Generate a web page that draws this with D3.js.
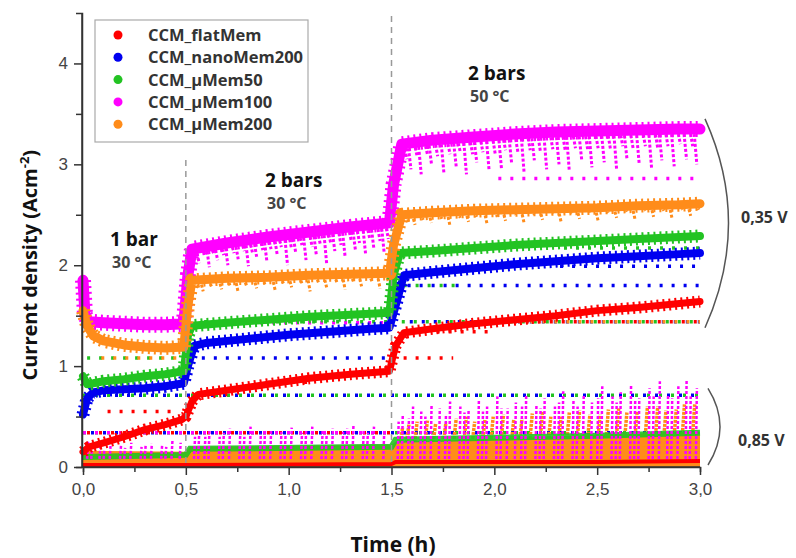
<!DOCTYPE html>
<html lang="en">
<head>
<meta charset="UTF-8">
<title>Current density vs time</title>
<script src="https://d3js.org/d3.v7.min.js"></script>
<style>
  body { margin: 0; background: #fff; }
  .tick text { font-family: "Liberation Sans", Arial, sans-serif; font-size: 17px; fill: #444; }
  .lbl { font-family: "Open Sans", "Noto Sans", sans-serif; font-weight: 700; }
</style>
</head>
<body>
<div id="chart"></div>
<script>
// ---- data ----
var seriesNames = ["CCM_flatMem", "CCM_nanoMem200", "CCM_\u00b5Mem50", "CCM_\u00b5Mem100", "CCM_\u00b5Mem200"];
var seriesColors = ["#ff0000", "#0000f0", "#22c322", "#ff00ff", "#ff8c1a"];

// main band at 0,35 V  [time h, current A/cm2]
var flatMem = [[0,0.15],[0.03,0.2],[0.1,0.24],[0.2,0.3],[0.3,0.37],[0.4,0.42],[0.48,0.47],[0.5,0.5],[0.53,0.65],[0.56,0.72],[0.7,0.76],[0.9,0.82],[1.1,0.88],[1.3,0.92],[1.49,0.95],[1.52,1.2],[1.56,1.33],[1.7,1.37],[1.9,1.42],[2.1,1.46],[2.3,1.5],[2.5,1.55],[2.7,1.58],[2.9,1.62],[3.0,1.64]];
var nanoMem200 = [[0,0.52],[0.02,0.68],[0.05,0.74],[0.1,0.76],[0.2,0.77],[0.3,0.78],[0.4,0.8],[0.49,0.83],[0.51,1.0],[0.54,1.2],[0.6,1.23],[0.8,1.27],[1.0,1.31],[1.2,1.34],[1.4,1.37],[1.49,1.38],[1.52,1.6],[1.56,1.9],[1.7,1.93],[1.9,1.97],[2.1,2.01],[2.3,2.04],[2.5,2.07],[2.7,2.09],[2.9,2.11],[3.0,2.12]];
var uMem50 = [[0,0.9],[0.02,0.82],[0.05,0.83],[0.1,0.85],[0.2,0.87],[0.3,0.9],[0.4,0.92],[0.49,0.95],[0.51,1.3],[0.53,1.4],[0.7,1.43],[0.9,1.46],[1.1,1.49],[1.3,1.51],[1.49,1.53],[1.51,1.9],[1.54,2.12],[1.7,2.14],[1.9,2.17],[2.1,2.2],[2.3,2.22],[2.5,2.24],[2.7,2.26],[2.9,2.28],[3.0,2.29]];
var uMem100 = [[0,1.85],[0.01,1.5],[0.03,1.44],[0.1,1.43],[0.2,1.42],[0.3,1.41],[0.4,1.41],[0.49,1.42],[0.51,1.9],[0.53,2.16],[0.7,2.22],[0.9,2.28],[1.1,2.33],[1.3,2.38],[1.49,2.42],[1.51,2.8],[1.55,3.2],[1.7,3.24],[1.9,3.27],[2.1,3.3],[2.3,3.32],[2.5,3.33],[2.7,3.34],[2.9,3.35],[3.0,3.35]];
var uMem200 = [[0,1.55],[0.02,1.4],[0.05,1.3],[0.1,1.25],[0.2,1.21],[0.3,1.19],[0.4,1.18],[0.49,1.19],[0.51,1.6],[0.53,1.85],[0.7,1.87],[0.9,1.88],[1.1,1.9],[1.3,1.91],[1.49,1.92],[1.51,2.2],[1.55,2.5],[1.7,2.52],[1.9,2.54],[2.1,2.55],[2.3,2.56],[2.5,2.57],[2.7,2.59],[2.9,2.6],[3.0,2.61]];
var bands = [flatMem, nanoMem200, uMem50, uMem100, uMem200];

// downward dips of the µMem100 / µMem200 bands  [time, lowest value]
var uMem100Dips = [[0.53,2.05],[0.55,2.02],[0.58,2.1],[0.6,1.98],[0.62,2.12],[0.64,2.05],[0.67,2.1],[0.69,2.0],[0.72,2.12],[0.74,2.06],[0.77,2.14],[0.79,1.99],[0.81,2.12],[0.83,2.08],[0.86,2.15],[0.88,2.03],[0.9,2.16],[0.93,2.1],[0.95,2.18],[0.98,2.0],[1.0,2.16],[1.02,2.12],[1.05,2.2],[1.07,2.05],[1.1,2.18],[1.12,2.1],[1.14,2.2],[1.17,2.02],[1.19,2.22],[1.21,2.14],[1.24,2.2],[1.26,2.08],[1.29,2.24],[1.31,2.15],[1.33,2.22],[1.36,2.1],[1.38,2.26],[1.4,2.16],[1.43,2.24],[1.45,2.12],[1.47,2.26],
  [1.56,3.05],[1.58,2.95],[1.61,3.08],[1.63,2.9],[1.66,3.1],[1.68,3.0],[1.71,3.08],[1.74,2.92],[1.77,3.1],[1.8,2.98],[1.82,3.12],[1.85,2.9],[1.88,3.1],[1.9,3.02],[1.93,3.12],[1.96,2.94],[1.99,3.1],[2.02,2.96],[2.04,3.14],[2.07,3.0],[2.1,3.12],[2.13,2.92],[2.16,3.14],[2.18,3.04],[2.21,3.12],[2.24,2.95],[2.27,3.15],[2.3,3.0],[2.33,3.14],[2.35,2.93],[2.38,3.16],[2.41,3.05],[2.44,3.14],[2.46,2.97],[2.49,3.16],[2.52,3.02],[2.55,3.15],[2.58,2.95],[2.61,3.18],[2.63,3.06],[2.66,3.16],[2.69,3.0],[2.72,3.18],[2.75,2.96],[2.78,3.16],[2.8,3.04],[2.83,3.18],[2.86,2.98],[2.89,3.2],[2.92,3.05],[2.95,3.18],[2.97,3.0]];
var uMem200Dips = [[0.55,1.76],[0.57,1.74],[0.61,1.79],[0.66,1.76],[0.7,1.8],[0.74,1.73],[0.78,1.8],[0.83,1.77],[0.87,1.81],[0.92,1.75],[0.96,1.82],[1.0,1.78],[1.05,1.82],[1.09,1.74],[1.13,1.83],[1.17,1.78],[1.22,1.83],[1.26,1.76],[1.3,1.84],[1.34,1.79],[1.39,1.84],[1.43,1.77],[1.47,1.84],
  [1.57,2.42],[1.6,2.4],[1.64,2.45],[1.68,2.42],[1.73,2.46],[1.77,2.39],[1.82,2.47],[1.86,2.43],[1.9,2.48],[1.95,2.41],[2.0,2.48],[2.04,2.44],[2.09,2.5],[2.13,2.42],[2.18,2.5],[2.22,2.45],[2.27,2.51],[2.31,2.43],[2.36,2.51],[2.4,2.46],[2.45,2.52],[2.49,2.44],[2.54,2.52],[2.58,2.47],[2.63,2.53],[2.67,2.45],[2.72,2.54],[2.76,2.48],[2.81,2.54],[2.85,2.46],[2.9,2.55],[2.94,2.49],[2.98,2.55]];

// sparse horizontal rows of stray points  [series index, from, to, value]
var strayRows = [[2,0.02,0.5,1.08],[4,0.05,0.48,1.08],[1,0.5,1.5,1.08],[1,1.52,3.0,1.8],[2,1.52,1.85,1.8],[1,2.3,3.0,1.99],
  [2,1.55,3.0,1.44],[1,1.55,3.0,1.44],[0,1.9,3.0,1.44],[4,2.0,3.0,1.44],[2,0.55,1.5,1.44],[3,0.55,1.5,1.43],
  [2,0.0,3.0,0.71],[1,0.0,3.0,0.71],[0,0.1,0.45,0.55],[0,0.9,1.1,0.84],[0,1.52,1.8,1.08],[0,1.7,2.0,1.34],
  [2,0.0,3.0,0.34],[1,0.0,3.0,0.34],[0,0.0,1.5,0.34],[3,0.0,1.5,0.34],[2,2.3,3.0,2.17],[3,2.0,3.0,2.86]];

// 0,85 V part at the bottom
var orangeLow = [[0,0.16],[0.5,0.15],[0.52,0.2],[1.0,0.21],[1.5,0.22],[1.52,0.25],[2.0,0.28],[2.5,0.32],[3.0,0.35]];
var greenLow = [[0,0.1],[0.5,0.12],[0.52,0.18],[1.5,0.2],[1.52,0.27],[2.0,0.29],[2.5,0.31],[3.0,0.34]];
var redLow = [[0,0.02],[0.5,0.02],[0.52,0.02],[1.5,0.03],[1.52,0.05],[2.0,0.05],[2.5,0.05],[3.0,0.06]];
var uMem100Spikes = [[0.02,0.25],[0.04,0.22],[0.08,0.2],[0.1,0.18],[0.13,0.25],[0.18,0.21],[0.2,0.19],[0.23,0.24],[0.28,0.2],[0.3,0.22],[0.33,0.23],[0.38,0.22],[0.4,0.2],[0.43,0.26],[0.47,0.24],
  [0.54,0.3],[0.56,0.33],[0.59,0.3],[0.61,0.36],[0.66,0.3],[0.68,0.34],[0.71,0.38],[0.76,0.34],[0.78,0.3],[0.81,0.4],[0.86,0.33],[0.88,0.36],[0.91,0.37],[0.96,0.35],[0.98,0.32],[1.01,0.39],[1.06,0.34],[1.08,0.37],[1.11,0.4],[1.16,0.36],[1.18,0.33],[1.21,0.38],[1.26,0.35],[1.28,0.38],[1.31,0.41],[1.36,0.37],[1.38,0.34],[1.41,0.4],[1.46,0.36],
  [1.53,0.45],[1.55,0.52],[1.58,0.48],[1.6,0.6],[1.64,0.55],[1.66,0.5],[1.69,0.62],[1.73,0.58],[1.76,0.52],[1.78,0.65],[1.83,0.6],[1.85,0.54],[1.87,0.56],[1.92,0.66],[1.94,0.55],[1.96,0.6],[2.01,0.7],[2.03,0.58],[2.06,0.58],[2.1,0.64],[2.13,0.6],[2.15,0.72],[2.2,0.62],[2.22,0.58],[2.24,0.68],[2.29,0.6],[2.31,0.64],[2.33,0.75],[2.38,0.66],[2.4,0.6],[2.43,0.72],[2.47,0.64],[2.5,0.68],[2.52,0.8],[2.57,0.7],[2.59,0.64],[2.61,0.74],[2.66,0.82],[2.68,0.66],[2.7,0.68],[2.75,0.78],[2.77,0.7],[2.8,0.85],[2.84,0.72],[2.86,0.68],[2.89,0.8],[2.93,0.86],[2.95,0.7],[2.98,0.78]];
var uMem200Spikes = [[1.54,0.4],[1.57,0.42],[1.61,0.45],[1.66,0.46],[1.7,0.43],[1.75,0.44],[1.8,0.48],[1.85,0.5],[1.89,0.45],[1.94,0.47],[1.98,0.5],[2.03,0.52],[2.08,0.47],[2.12,0.48],[2.17,0.53],[2.22,0.55],[2.26,0.5],[2.31,0.5],[2.35,0.54],[2.4,0.56],[2.45,0.52],[2.5,0.52],[2.54,0.57],[2.59,0.58],[2.63,0.54],[2.68,0.55],[2.73,0.6],[2.78,0.6],[2.82,0.56],[2.87,0.57],[2.91,0.62],[2.96,0.62]];

var xTicks = [0, 0.5, 1, 1.5, 2, 2.5, 3];
var yTicks = [0, 1, 2, 3, 4];

// ---- chart ----
var W = 796, H = 558;
var svg = d3.select("#chart").append("svg").attr("width", W).attr("height", H);

var x = d3.scaleLinear().domain([0, 3]).range([83, 700]);
var y = d3.scaleLinear().domain([0, 4.5]).range([467, 13]);

var plot = svg.append("g");
var line = d3.line().x(function (d) { return x(d[0]); }).y(function (d) { return y(d[1]); });
var area = d3.area().x(function (d) { return x(d[0]); }).y0(y(0)).y1(function (d) { return y(d[1]); });

// stray rows
strayRows.forEach(function (r, i) {
  plot.append("line")
    .attr("x1", x(r[1])).attr("x2", x(r[2]))
    .attr("y1", y(r[3])).attr("y2", y(r[3]))
    .attr("stroke", seriesColors[r[0]])
    .attr("stroke-width", 3.5)
    .attr("stroke-dasharray", "3,9")
    .attr("stroke-dashoffset", (i * 4) % 12);
});

// bottom 0,85 V part
plot.append("path").datum(orangeLow).attr("d", area).attr("fill", seriesColors[4]);
plot.append("g").selectAll("line").data(uMem200Spikes).enter().append("line")
  .attr("x1", function (d) { return x(d[0]); }).attr("x2", function (d) { return x(d[0]) + 3; })
  .attr("y1", y(0.2)).attr("y2", function (d) { return y(d[1]); })
  .attr("stroke", seriesColors[4]).attr("stroke-width", 3.5).attr("stroke-dasharray", "3,1");
plot.append("path").datum(greenLow).attr("d", line).attr("fill", "none")
  .attr("stroke", seriesColors[2]).attr("stroke-width", 6).attr("opacity", 0.9);
plot.append("g").selectAll("line").data(uMem100Spikes).enter().append("line")
  .attr("x1", function (d) { return x(d[0]); }).attr("x2", function (d) { return x(d[0]) + 1; })
  .attr("y1", y(0.08)).attr("y2", function (d) { return y(d[1]); })
  .attr("stroke", seriesColors[3]).attr("stroke-width", 2.5).attr("stroke-dasharray", "3,2");
plot.append("path").datum(redLow).attr("d", line).attr("fill", "none")
  .attr("stroke", seriesColors[0]).attr("stroke-width", 4);

// dips
function dips(data, band, color) {
  var f = d3.scaleLinear().domain(band.map(function (d) { return d[0]; })).range(band.map(function (d) { return d[1]; }));
  plot.append("g").selectAll("line").data(data).enter().append("line")
    .attr("x1", function (d) { return x(d[0]); }).attr("x2", function (d) { return x(d[0]) + 3; })
    .attr("y1", function (d) { return y(f(d[0])); }).attr("y2", function (d) { return y(d[1]); })
    .attr("stroke", color).attr("stroke-width", 3).attr("stroke-dasharray", "3,2");
}
dips(uMem100Dips, uMem100, seriesColors[3]);
dips(uMem200Dips, uMem200, seriesColors[4]);

// main bands: solid core plus a ragged dotted halo
var bandWidth = [7, 8, 8, 11, 9];
bands.forEach(function (b, i) {
  plot.append("path").datum(b).attr("d", line).attr("fill", "none")
    .attr("stroke", seriesColors[i]).attr("stroke-width", bandWidth[i] + 5)
    .attr("stroke-dasharray", "2,4").attr("stroke-linejoin", "round");
  plot.append("path").datum(b).attr("d", line).attr("fill", "none")
    .attr("stroke", seriesColors[i]).attr("stroke-width", bandWidth[i])
    .attr("stroke-linejoin", "round").attr("stroke-linecap", "round");
});

// step separators
svg.append("line").attr("x1", x(0.5)).attr("x2", x(0.5)).attr("y1", 160).attr("y2", y(0))
  .attr("stroke", "#999").attr("stroke-width", 1.5).attr("stroke-dasharray", "6,5");
svg.append("line").attr("x1", x(1.5)).attr("x2", x(1.5)).attr("y1", 16).attr("y2", y(0))
  .attr("stroke", "#999").attr("stroke-width", 1.5).attr("stroke-dasharray", "6,5");

// axes
var fmt = function (d) { return d3.format(".1f")(d).replace(".", ","); };
var xAxis = svg.append("g").attr("transform", "translate(0," + y(0) + ")")
  .call(d3.axisBottom(x).tickValues(xTicks).tickFormat(fmt).tickSize(8).tickPadding(8));
svg.append("g").attr("transform", "translate(0," + y(0) + ")")
  .call(d3.axisBottom(x).tickValues(d3.range(0.25, 3, 0.5)).tickFormat("").tickSize(5));
var yAxis = svg.append("g").attr("transform", "translate(82,0)")
  .call(d3.axisLeft(y).tickValues(yTicks).tickFormat(d3.format("d")).tickSize(8).tickPadding(6));
svg.append("g").attr("transform", "translate(82,0)")
  .call(d3.axisLeft(y).tickValues([0.5, 1.5, 2.5, 3.5]).tickFormat("").tickSize(6));
svg.selectAll(".domain, .tick line").attr("stroke", "#333").attr("stroke-width", 1.5);
yAxis.select(".domain").attr("d", "M0," + y(4.5) + "V" + y(0));
xAxis.select(".domain").attr("d", "M" + x(0) + ",0H" + x(3));

// axis titles
var yt = svg.append("text").attr("class", "lbl").attr("text-anchor", "middle")
  .attr("transform", "translate(37," + y(2) + ") rotate(-90)")
  .attr("font-size", 20).attr("fill", "#111");
yt.append("tspan").text("Current density (Acm");
yt.append("tspan").attr("font-size", 13).attr("dy", -8).text("-2");
yt.append("tspan").attr("dy", 8).text(")");
svg.append("text").attr("class", "lbl").attr("x", 393).attr("y", 552).attr("text-anchor", "middle")
  .attr("font-size", 21).attr("fill", "#111").text("Time (h)");

// legend
var lg = svg.append("g");
lg.append("rect").attr("x", 95).attr("y", 20).attr("width", 213).attr("height", 122)
  .attr("fill", "#fff").attr("stroke", "#aaa").attr("stroke-width", 1.2);
seriesNames.forEach(function (n, i) {
  var yy = 35 + i * 22.3;
  lg.append("circle").attr("cx", 118).attr("cy", yy).attr("r", 4.5).attr("fill", seriesColors[i]);
  lg.append("text").attr("class", "lbl").attr("x", 148).attr("y", yy + 6)
    .attr("font-size", 16.5).attr("fill", "#333").text(n);
});

// step annotations
function note(tx, ty, big, small) {
  svg.append("text").attr("class", "lbl").attr("x", tx).attr("y", ty).attr("font-size", 19).attr("fill", "#111").text(big);
  svg.append("text").attr("class", "lbl").attr("x", tx + 2).attr("y", ty + 22).attr("font-size", 16).attr("fill", "#444").text(small);
}
note(110, 246, "1 bar", "30 \u00b0C");
note(265, 187, "2 bars", "30 \u00b0C");
note(468, 80, "2 bars", "50 \u00b0C");

// voltage brackets
svg.append("path").attr("d", "M705," + y(3.45) + " Q752," + y(2.42) + " 705," + y(1.38))
  .attr("fill", "none").attr("stroke", "#555").attr("stroke-width", 1.5);
svg.append("text").attr("class", "lbl").attr("x", 741).attr("y", 223).attr("font-size", 16).attr("fill", "#333").text("0,35 V");
svg.append("path").attr("d", "M708," + y(0.78) + " Q732," + y(0.4) + " 708," + y(0.02))
  .attr("fill", "none").attr("stroke", "#555").attr("stroke-width", 1.5);
svg.append("text").attr("class", "lbl").attr("x", 738).attr("y", 446).attr("font-size", 16).attr("fill", "#333").text("0,85 V");
</script>
</body>
</html>
